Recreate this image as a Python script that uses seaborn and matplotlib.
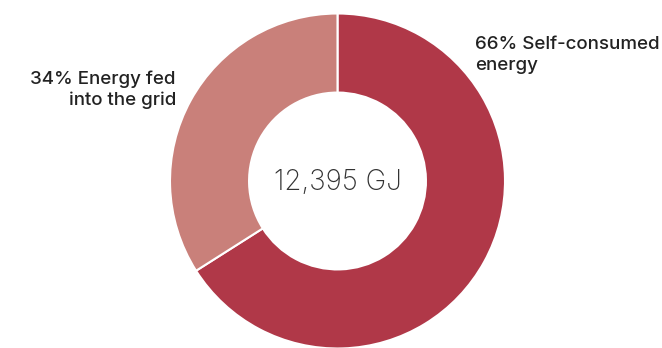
import matplotlib
matplotlib.use("Agg")
import matplotlib.pyplot as plt
import seaborn as sns

categories = ["Self-consumed energy", "Energy fed into the grid"]
shares = [66, 34]
label_texts = ["66% Self-consumed\nenergy", "34% Energy fed\ninto the grid"]
total_text = "12,395 GJ"
colors = ["#B03848", "#C9807A"]

sns.set_theme(style="white")
plt.rcParams['font.family'] = ['Inter', 'DejaVu Sans']

W, H = 662, 348
fig = plt.figure(figsize=(W / 100, H / 100), dpi=100)
ax = fig.add_axes([0, 0, 1, 1])
ax.set_xlim(0, W)
ax.set_ylim(0, H)
ax.set_aspect("equal")
ax.axis("off")

cx, cy, r = 337.5, H - 181, 167.5
ax.pie(shares, colors=colors, startangle=90, counterclock=False,
       center=(cx, cy), radius=r,
       wedgeprops=dict(width=r * 0.472, edgecolor="white", linewidth=1.5))
ax.set_xlim(0, W)
ax.set_ylim(0, H)

ax.text(cx, H - 182, total_text, ha="center", va="center", fontsize=20,
        fontweight="light", color="#333333")
ax.text(475, H - 36, label_texts[0], ha="left", va="top", fontsize=13.5,
        fontweight="medium", color="#222222", linespacing=1.28)
ax.text(176, H - 70, label_texts[1], ha="right", va="top", fontsize=13.5,
        fontweight="medium", color="#222222", linespacing=1.28,
        multialignment="right")

fig.savefig("out.png", dpi=100)
